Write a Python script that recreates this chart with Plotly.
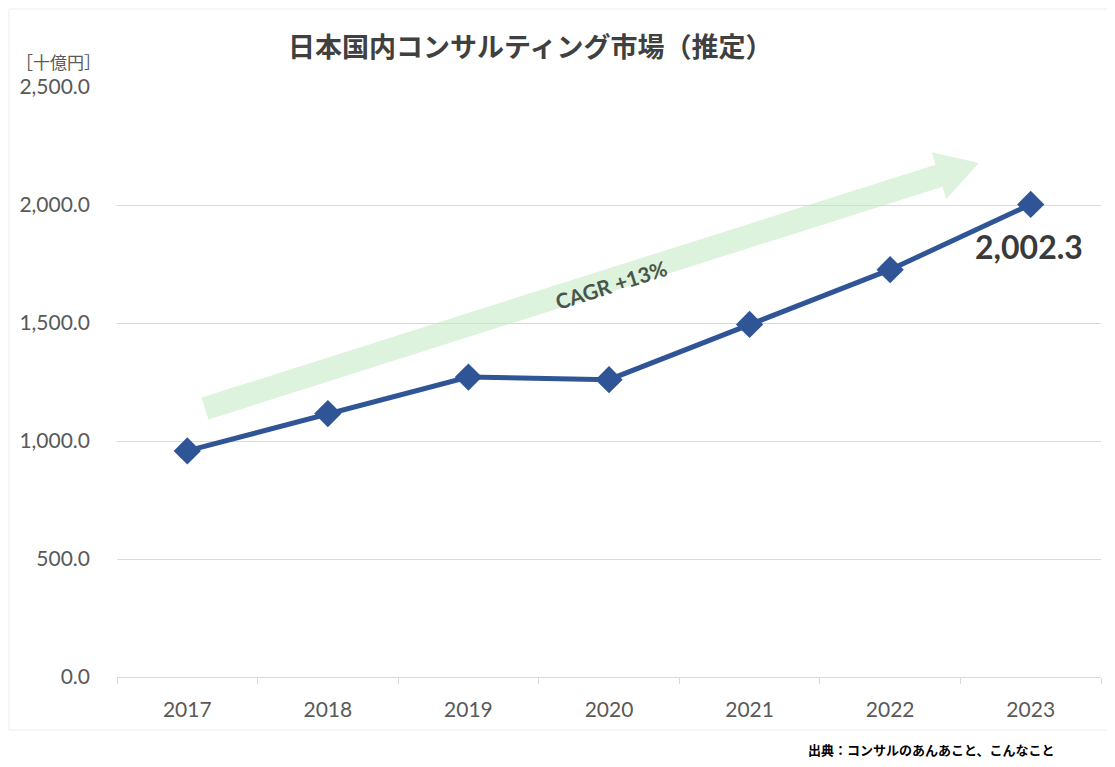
import numpy as np
import plotly.graph_objects as go

years = ["2017", "2018", "2019", "2020", "2021", "2022", "2023"]
market = [958, 1116, 1271, 1260, 1494, 1726, 2002.3]
y_ticks = [0, 500, 1000, 1500, 2000, 2500]
y_tick_text = ["0.0", "500.0", "1,000.0", "1,500.0", "2,000.0", "2,500.0"]

# page body margin offset (browser default)
O = 8
# plot area in page pixels
PL, PR, PT, PB = 117, 1101, 87, 677

W = 1107
H = 759
L = PL - O
T = PT - O
R = O + W - PR
B = O + H - PB
YMAX = 2500
pw = PR - PL
ph = PB - PT
ncat = len(years)

def px_to_data(px, py):
    xd = (px - PL) / pw * ncat - 0.5
    yd = (PB - py) / ph * YMAX
    return xd, yd

def px_to_paper(px, py):
    return (px - PL) / pw, (PB - py) / ph

# arrow geometry in page pixels
S = np.array([205.0, 408.5])
Tp = np.array([979.0, 163.0])
d = Tp - S
d = d / np.linalg.norm(d)
n = np.array([-d[1], d[0]])
sw, hw, hl = 11.5, 24.5, 42.0
base = Tp - d * hl
pts = [S + n * sw, base + n * sw, base + n * hw, Tp, base - n * hw, base - n * sw, S - n * sw]
path = ""
for i, p in enumerate(pts):
    xd, yd = px_to_data(*p)
    path += ("M" if i == 0 else "L") + f"{xd:.4f},{yd:.3f} "
path += "Z"

fig = go.Figure()
fig.add_trace(go.Scatter(
    x=list(range(ncat)), y=market, mode="lines+markers",
    line=dict(color="#2F5597", width=5),
    marker=dict(symbol="diamond", size=21, color="#2F5597"),
    hoverinfo="skip", showlegend=False,
))

fig.add_shape(type="path", path=path, xref="x", yref="y",
              fillcolor="#DDF3DD", line=dict(width=0), layer="below")

# chart border
bx0, by1 = px_to_paper(9, 9)
bx1, by0 = px_to_paper(1112, 730)
fig.add_shape(type="rect", xref="paper", yref="paper",
              x0=bx0, x1=bx1, y0=by0, y1=by1,
              line=dict(color="#EDEDED", width=1), fillcolor="rgba(0,0,0,0)", layer="below")

font_num = "Lato, 'Noto Sans CJK JP', sans-serif"
font_jp = "'Noto Sans CJK JP', sans-serif"

cx, cy = px_to_data(611, 284)
fig.add_annotation(x=cx, y=cy, xref="x", yref="y", text="<b>CAGR +13%</b>",
                   showarrow=False, textangle=-17.6,
                   xanchor="center", yanchor="middle",
                   font=dict(family=font_num, size=21, color="#4A554A"))

fig.add_annotation(x=ncat - 1, y=market[-1], xref="x", yref="y",
                   text="<b>2,002.3</b>", showarrow=False, xshift=-2, yshift=-42,
                   xanchor="center", yanchor="middle",
                   font=dict(family=font_num, size=32, color="#3A3A3A"))

tx, ty = px_to_paper(530, 45)
fig.add_annotation(x=tx, y=ty, xref="paper", yref="paper",
                   text="<b>日本国内コンサルティング市場（推定）</b>", showarrow=False,
                   xanchor="center", yanchor="middle",
                   font=dict(family=font_jp, size=27, color="#404040"))

lx, ly = px_to_paper(58, 61)
fig.add_annotation(x=lx, y=ly, xref="paper", yref="paper",
                   text="［十億円］", showarrow=False,
                   xanchor="center", yanchor="middle",
                   font=dict(family=font_jp, size=17, color="#595959"))

sx, sy = px_to_paper(1056, 749)
fig.add_annotation(x=sx, y=sy, xref="paper", yref="paper",
                   text="<b>出典：コンサルのあんあこと、こんなこと</b>", showarrow=False,
                   xanchor="right", yanchor="middle",
                   font=dict(family=font_jp, size=13, color="#000000"))

fig.update_layout(
    width=W, height=H,
    margin=dict(l=L, r=R, t=T, b=B),
    paper_bgcolor="white", plot_bgcolor="white",
    showlegend=False,
    xaxis=dict(
        range=[-0.5, ncat - 0.5], tickmode="array",
        tickvals=list(range(ncat)), ticktext=years,
        showgrid=False, zeroline=False, showline=True, linecolor="#D9D9D9", linewidth=1,
        tickfont=dict(family=font_num, size=21, color="#595959"),
        ticks="", ticklabelstandoff=14,
        minor=dict(tickvals=[i + 0.5 for i in range(-1, ncat)], ticks="outside",
                   ticklen=6, tickcolor="#D9D9D9", showgrid=False),
    ),
    yaxis=dict(
        range=[0, YMAX], tickmode="array", tickvals=y_ticks, ticktext=y_tick_text,
        showgrid=True, gridcolor="#D9D9D9", gridwidth=1, zeroline=False,
        tickfont=dict(family=font_num, size=21, color="#595959"),
        ticklabelstandoff=26,
    ),
)

fig.write_html("out.html")
